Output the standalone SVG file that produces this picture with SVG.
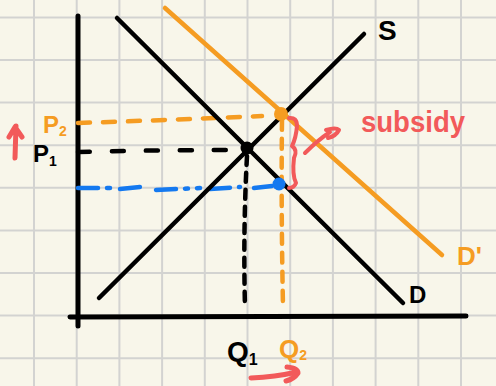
<svg xmlns="http://www.w3.org/2000/svg" width="496" height="386" viewBox="0 0 496 386">
<style>
.grid line{stroke:#d3d3d1;stroke-width:2}
.k{stroke:#000;fill:none;stroke-linecap:round;stroke-linejoin:round}
.o{stroke:#f59c22;fill:none;stroke-linecap:round;stroke-linejoin:round}
.r{stroke:#f25a5a;fill:none;stroke-linecap:round;stroke-linejoin:round}
.b{stroke:#1479f0;fill:none;stroke-linecap:round}
.lbl{font-family:"Liberation Sans",Arial,sans-serif;font-weight:bold}
</style>
<rect width="496" height="386" fill="#f8f6ea"/>
<g class="grid">
<line x1="34" y1="0" x2="34" y2="386"/><line x1="76.7" y1="0" x2="76.7" y2="386"/><line x1="119.4" y1="0" x2="119.4" y2="386"/><line x1="162.1" y1="0" x2="162.1" y2="386"/><line x1="204.8" y1="0" x2="204.8" y2="386"/><line x1="247.5" y1="0" x2="247.5" y2="386"/><line x1="290.2" y1="0" x2="290.2" y2="386"/><line x1="332.9" y1="0" x2="332.9" y2="386"/><line x1="375.6" y1="0" x2="375.6" y2="386"/><line x1="418.3" y1="0" x2="418.3" y2="386"/><line x1="461" y1="0" x2="461" y2="386"/>
<line x1="0" y1="17.4" x2="496" y2="17.4"/><line x1="0" y1="60" x2="496" y2="60"/><line x1="0" y1="102.6" x2="496" y2="102.6"/><line x1="0" y1="145.2" x2="496" y2="145.2"/><line x1="0" y1="187.8" x2="496" y2="187.8"/><line x1="0" y1="230.4" x2="496" y2="230.4"/><line x1="0" y1="273" x2="496" y2="273"/><line x1="0" y1="315.6" x2="496" y2="315.6"/><line x1="0" y1="358.2" x2="496" y2="358.2"/>
</g>
<g id="axes">
<line class="k" x1="78" y1="16" x2="78" y2="326" stroke-width="5"/>
<line class="k" x1="70" y1="317" x2="466" y2="316" stroke-width="5"/>
</g>
<g id="connectors">
<path class="o" d="M78,123 Q170,120 262,116" stroke-width="4.5" stroke-dasharray="12 13"/>
<path class="k" d="M78,152 Q150,150 238,150" stroke-width="4.5" stroke-dasharray="12 22"/>
<path class="b" d="M78,188 L110,188 M120,189 L140,187 M156,190 L200,188 M210,189 L240,187 M254,188 L272,186" stroke-width="4.5" stroke-dasharray="20 9 3 9"/>
<path class="k" d="M247,156 Q243,230 245,307" stroke-width="4.5" stroke-dasharray="9 8"/>
<path class="o" d="M282,120 Q281,210 283,306" stroke-width="4.5" stroke-dasharray="10 9"/>
</g>
<g id="curve-S"><line class="k" x1="99" y1="298" x2="364" y2="34" stroke-width="4.5"/></g>
<g id="curve-D"><line class="k" x1="117" y1="18" x2="403" y2="303" stroke-width="4.5"/></g>
<g id="curve-D-prime"><line class="o" x1="165" y1="8" x2="442" y2="255" stroke-width="4.5"/></g>
<g id="points">
<circle cx="247" cy="148" r="6.5" fill="#000"/>
<circle cx="281" cy="114" r="7" fill="#f59c22"/>
<circle cx="279" cy="184" r="6.5" fill="#1479f0"/>
</g>
<g id="subsidy">
<path class="r" d="M289,118 Q297,117 297,126 Q296,138 292,146 Q298,150 294,158 Q292,175 296,183 Q294,188 289,188" stroke-width="4"/>
<path class="r" d="M305,153 Q318,140 330,132 M326,130 Q336,127 339,130 Q336,136 328,138" stroke-width="4"/>
<text class="lbl" x="361" y="132" font-size="30" fill="#f25a5a" textLength="104" lengthAdjust="spacingAndGlyphs">subsidy</text>
</g>
<g id="labels">
<text class="lbl" x="378" y="40" font-size="28" fill="#000">S</text>
<text class="lbl" x="409" y="303" font-size="24" fill="#000">D</text>
<text class="lbl" x="457" y="265" font-size="26" fill="#f59c22">D'</text>
<text class="lbl" x="227" y="361" font-size="28" fill="#000">Q<tspan font-size="16" dy="4">1</tspan></text>
<text class="lbl" x="279" y="358" font-size="26" fill="#f59c22">Q<tspan font-size="14" dy="2">2</tspan></text>
<text class="lbl" x="43" y="133" font-size="24" fill="#f59c22">P<tspan font-size="14" dy="3">2</tspan></text>
<text class="lbl" x="33" y="162" font-size="24" fill="#000">P<tspan font-size="14" dy="4">1</tspan></text>
</g>
<g id="arrows">
<path class="r" d="M15,158 L16,126 M9,137 L15,127 L22,137" stroke-width="5"/>
<path class="r" d="M251,378 Q275,377 297,372 M287,367 Q298,368 298,373 Q294,379 286,381" stroke-width="5"/>
</g>
</svg>
